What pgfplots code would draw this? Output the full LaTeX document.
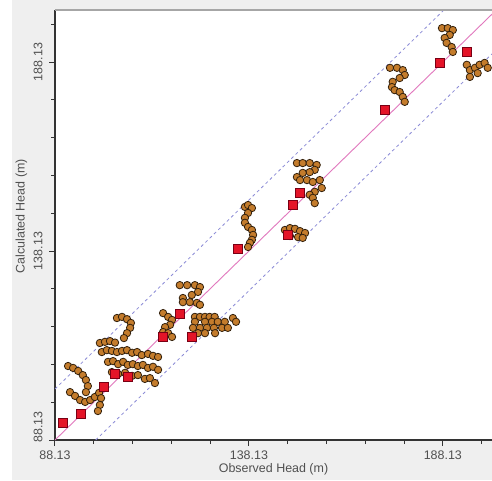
\documentclass[border=0pt]{standalone}
\usepackage{fontspec}
\setmainfont{Liberation Sans}
\usepackage{pgfplots}
\pgfplotsset{compat=1.18}
\usepackage{pgfplotstable}

\definecolor{bggray}{RGB}{239,239,239}
\definecolor{txtgray}{RGB}{80,80,80}
\definecolor{obsfill}{RGB}{196,124,44}
\definecolor{obsedge}{RGB}{50,32,12}
\definecolor{calred}{RGB}{228,20,40}
\definecolor{caledge}{RGB}{120,0,20}
\definecolor{oneline}{RGB}{225,120,190}
\definecolor{bandline}{RGB}{140,140,215}

% observed vs calculated, transient targets
\pgfplotstableread{
x y
91.5 107.7
92.8 107.2
94.1 106.4
95.3 105.3
96.1 104.0
96.6 102.4
96.1 100.8
92.0 100.8
93.3 99.8
94.6 98.7
95.9 98.2
97.2 98.7
98.4 99.5
99.5 100.6
100.0 99.2
99.7 97.4
99.2 95.8
99.7 113.8
101.0 114.1
102.3 114.3
103.6 113.9
100.2 111.4
101.5 111.9
102.8 111.7
104.1 111.4
105.4 111.7
106.7 111.9
108.0 111.2
109.3 111.4
110.5 110.6
112.1 110.9
113.4 110.4
114.7 110.1
101.8 108.8
103.1 109.0
104.4 108.2
105.7 108.8
106.9 108.0
108.2 108.2
109.5 107.7
110.8 108.0
112.1 107.2
113.4 107.5
114.7 106.7
102.8 106.1
104.4 105.6
106.2 105.9
108.0 105.1
109.5 105.3
111.3 104.3
112.6 104.5
113.9 103.2
104.1 120.4
105.4 120.7
106.7 120.1
107.7 119.1
107.5 117.8
106.7 116.4
105.9 115.1
120.3 129.1
122.2 129.1
124.2 129.1
125.5 128.6
125.0 127.3
123.4 126.5
121.1 125.7
121.1 124.6
122.9 124.6
124.7 124.4
125.5 123.9
116.0 121.7
117.3 120.7
118.3 119.9
117.8 118.6
116.5 118.0
116.0 116.7
117.3 116.4
118.3 115.4
124.2 120.7
125.5 120.7
126.8 120.7
128.0 120.7
129.3 120.7
124.2 119.4
126.8 119.4
128.6 119.4
130.1 119.4
131.9 119.4
123.7 117.8
125.5 117.8
127.3 117.8
129.1 117.8
131.2 117.8
132.7 117.8
125.0 116.4
126.8 116.4
129.4 116.4
134.0 120.4
134.8 119.4
137.1 149.8
137.9 150.3
138.9 149.5
137.9 148.2
137.1 146.9
137.1 145.6
137.9 144.5
138.9 143.7
139.2 142.4
138.9 141.1
138.4 140.3
137.9 139.2
147.4 143.7
148.7 144.2
150.0 144.0
151.3 143.4
152.6 142.9
148.7 142.1
150.8 141.8
152.0 141.6
150.5 161.4
152.0 161.4
153.8 161.4
155.6 160.9
155.1 159.6
153.8 159.0
152.0 158.8
150.5 157.7
151.3 156.9
153.1 156.9
154.6 156.4
156.4 156.9
156.9 154.8
155.1 153.8
153.8 153.0
154.6 152.2
155.1 150.8
174.5 186.6
176.3 186.6
177.8 186.0
178.3 184.7
177.0 183.9
175.2 182.9
175.0 181.5
175.7 180.7
177.0 180.2
177.8 178.9
178.3 177.6
187.9 197.1
189.4 197.1
190.7 196.6
189.9 195.3
188.6 194.5
189.1 193.2
190.4 192.1
190.7 190.8
194.3 187.4
195.1 186.0
196.4 186.6
197.6 187.4
198.9 187.9
199.7 186.6
197.1 185.2
195.1 184.2
}\obsdata

% steady-state targets
\pgfplotstableread{
x y
90.2 92.6
94.8 95.0
100.8 102.2
103.6 105.6
106.9 104.8
116.0 115.4
120.4 121.5
123.4 115.4
135.3 138.7
148.2 142.4
149.5 150.3
151.3 153.5
173.2 175.4
187.4 187.9
194.3 190.8
}\caldata

\begin{document}
\begin{tikzpicture}
\useasboundingbox (-55bp,-41bp) rectangle (437bp,440bp);
\fill[bggray] (-43bp,-40bp) rectangle (437bp,440bp);
\begin{axis}[
    at={(0,0)}, anchor=south west,
    scale only axis, width=437bp, height=430bp,
    xmin=88.13, xmax=200.8, ymin=88.13, ymax=201.9,
    axis x line*=bottom, axis y line*=left,
    axis line style={draw=black!80, line width=1.6bp, -},
    axis background/.style={fill=white},
    xtick={88.13,138.13,188.13}, xticklabels={88.13,138.13,188.13},
    ytick={138.13,188.13}, yticklabels={138.13,188.13},
    extra y ticks={88.13}, extra y tick labels={88.13},
    extra y tick style={yticklabel style={xshift=13bp}},
    minor xtick={98.13,108.13,118.13,128.13,148.13,158.13,168.13,178.13,198.13},
    minor ytick={98.13,108.13,118.13,128.13,148.13,158.13,168.13,178.13,198.13},
    tick align=outside, major tick length=6bp, minor tick length=4bp,
    tick style={black!80, line width=1bp},
    tick label style={font=\fontsize{12.5}{14}\selectfont, text=txtgray},
    xticklabel style={anchor=center, yshift=-9bp},
    yticklabel style={xshift=-11bp, rotate=90, anchor=center},
    label style={font=\fontsize{12.5}{14}\selectfont, text=txtgray},
    xlabel={Observed Head (m)},
    xlabel style={at={(axis description cs:0.5,-0.068)}, anchor=center},
    ylabel={Calculated Head (m)},
    ylabel style={at={(axis description cs:-0.077,0.52)}, anchor=center},
]
\addplot[bandline, line width=0.8bp, dash pattern=on 3bp off 3bp] coordinates {(88.13,101.63) (188.4,201.9)};
\addplot[bandline, line width=0.8bp, dash pattern=on 3bp off 3bp] coordinates {(98.63,88.13) (200.8,190.3)};
\addplot[oneline, line width=0.9bp] coordinates {(88.13,88.13) (201.9,201.9)};
\addplot[only marks, mark=*, mark size=3.7bp,
    mark options={fill=obsfill, draw=obsedge, line width=0.8bp}] table {\obsdata};
\addplot[only marks, mark=square*, mark size=4.6bp,
    mark options={fill=calred, draw=caledge, line width=0.6bp}] table {\caldata};
\end{axis}
\draw[black!35, line width=1.5bp] (0,430bp) -- (437bp,430bp);
\end{tikzpicture}
\end{document}
